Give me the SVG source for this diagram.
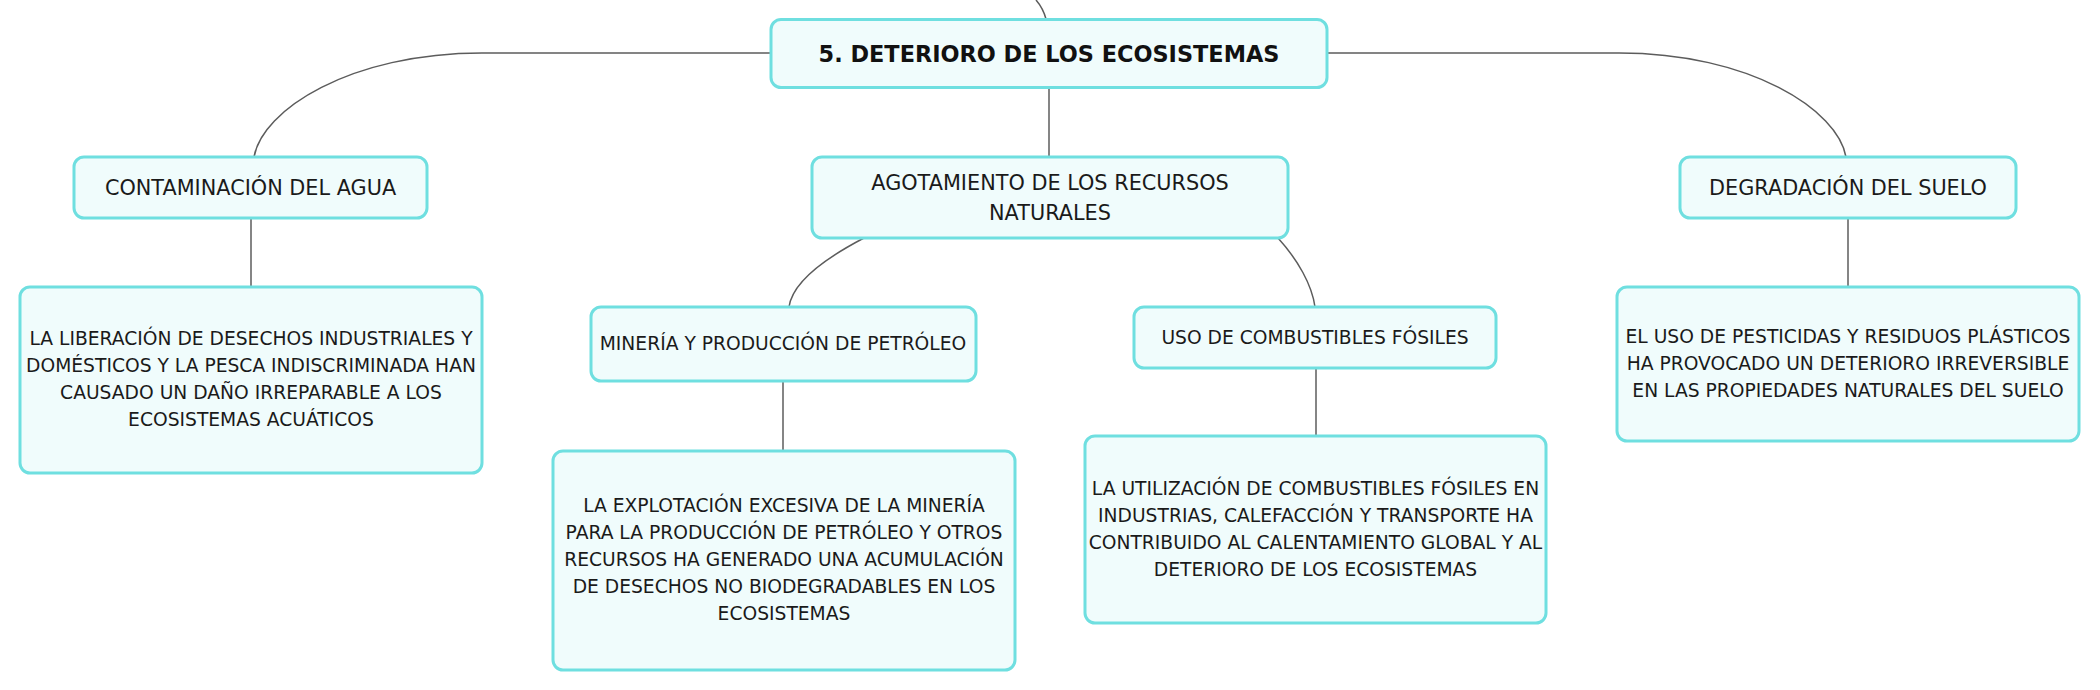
<svg xmlns="http://www.w3.org/2000/svg" width="2100" height="690" viewBox="0 0 2100 690">
<style>
.box{fill:#f0fcfc;stroke:#6fdfe0;stroke-width:3}
.conn{fill:none;stroke:#5c5c5c;stroke-width:1.5}
text{font-family:"DejaVu Sans","Liberation Sans",sans-serif;fill:#1a1a1a;text-anchor:middle}
.title{font-size:22.4px;font-weight:bold;fill:#111}
.l1{font-size:20.8px}
.leaf{font-size:18.7px}
</style>
<rect width="2100" height="690" fill="#ffffff"/>
<g id="connectors">
<path class="conn" d="M1036,0 Q1043,8 1046,19"/>
<path class="conn" d="M771,53 L482,53 C350,53 262,110 254,157"/>
<path class="conn" d="M1327,53 L1619,53 C1750,53 1838,110 1846,157"/>
<path class="conn" d="M1049,87 L1049,157"/>
<path class="conn" d="M251,218 L251,287"/>
<path class="conn" d="M1848,218 L1848,287"/>
<path class="conn" d="M864,238 C818,262 792,285 789,307"/>
<path class="conn" d="M1278,238 C1298,260 1312,285 1315,307"/>
<path class="conn" d="M783,381 L783,451"/>
<path class="conn" d="M1316,368 L1316,436"/>
</g>
<g id="n-main">
<rect class="box" x="771" y="19.5" width="556" height="68" rx="10"/>
<text class="title" x="1049" y="62">5. DETERIORO DE LOS ECOSISTEMAS</text>
</g>
<g id="n-agua">
<rect class="box" x="74" y="157" width="353" height="61" rx="10"/>
<text class="l1" x="250.5" y="195">CONTAMINACIÓN DEL AGUA</text>
</g>
<g id="n-recursos">
<rect class="box" x="812" y="157" width="476" height="81" rx="10"/>
<text class="l1" x="1050" y="189.5">AGOTAMIENTO DE LOS RECURSOS</text>
<text class="l1" x="1050" y="219.5">NATURALES</text>
</g>
<g id="n-suelo">
<rect class="box" x="1680" y="157" width="336" height="61" rx="10"/>
<text class="l1" x="1848" y="195">DEGRADACIÓN DEL SUELO</text>
</g>
<g id="n-agua-desc">
<rect class="box" x="20" y="287" width="462" height="186" rx="10"/>
<text class="leaf" x="251" y="345">LA LIBERACIÓN DE DESECHOS INDUSTRIALES Y</text>
<text class="leaf" x="251" y="372">DOMÉSTICOS Y LA PESCA INDISCRIMINADA HAN</text>
<text class="leaf" x="251" y="399">CAUSADO UN DAÑO IRREPARABLE A LOS</text>
<text class="leaf" x="251" y="426">ECOSISTEMAS ACUÁTICOS</text>
</g>
<g id="n-suelo-desc">
<rect class="box" x="1617" y="287" width="462" height="154" rx="10"/>
<text class="leaf" x="1848" y="343">EL USO DE PESTICIDAS Y RESIDUOS PLÁSTICOS</text>
<text class="leaf" x="1848" y="370">HA PROVOCADO UN DETERIORO IRREVERSIBLE</text>
<text class="leaf" x="1848" y="397">EN LAS PROPIEDADES NATURALES DEL SUELO</text>
</g>
<g id="n-mineria">
<rect class="box" x="591" y="307" width="385" height="74" rx="10"/>
<text class="leaf" x="783" y="350">MINERÍA Y PRODUCCIÓN DE PETRÓLEO</text>
</g>
<g id="n-combustibles">
<rect class="box" x="1134" y="307" width="362" height="61" rx="10"/>
<text class="leaf" x="1315" y="344">USO DE COMBUSTIBLES FÓSILES</text>
</g>
<g id="n-mineria-desc">
<rect class="box" x="553" y="451" width="462" height="219" rx="10"/>
<text class="leaf" x="784" y="512">LA EXPLOTACIÓN EXCESIVA DE LA MINERÍA</text>
<text class="leaf" x="784" y="539">PARA LA PRODUCCIÓN DE PETRÓLEO Y OTROS</text>
<text class="leaf" x="784" y="566">RECURSOS HA GENERADO UNA ACUMULACIÓN</text>
<text class="leaf" x="784" y="593">DE DESECHOS NO BIODEGRADABLES EN LOS</text>
<text class="leaf" x="784" y="620">ECOSISTEMAS</text>
</g>
<g id="n-combustibles-desc">
<rect class="box" x="1085" y="436" width="461" height="187" rx="10"/>
<text class="leaf" x="1315.5" y="495">LA UTILIZACIÓN DE COMBUSTIBLES FÓSILES EN</text>
<text class="leaf" x="1315.5" y="522">INDUSTRIAS, CALEFACCIÓN Y TRANSPORTE HA</text>
<text class="leaf" x="1315.5" y="549">CONTRIBUIDO AL CALENTAMIENTO GLOBAL Y AL</text>
<text class="leaf" x="1315.5" y="576">DETERIORO DE LOS ECOSISTEMAS</text>
</g>
</svg>
